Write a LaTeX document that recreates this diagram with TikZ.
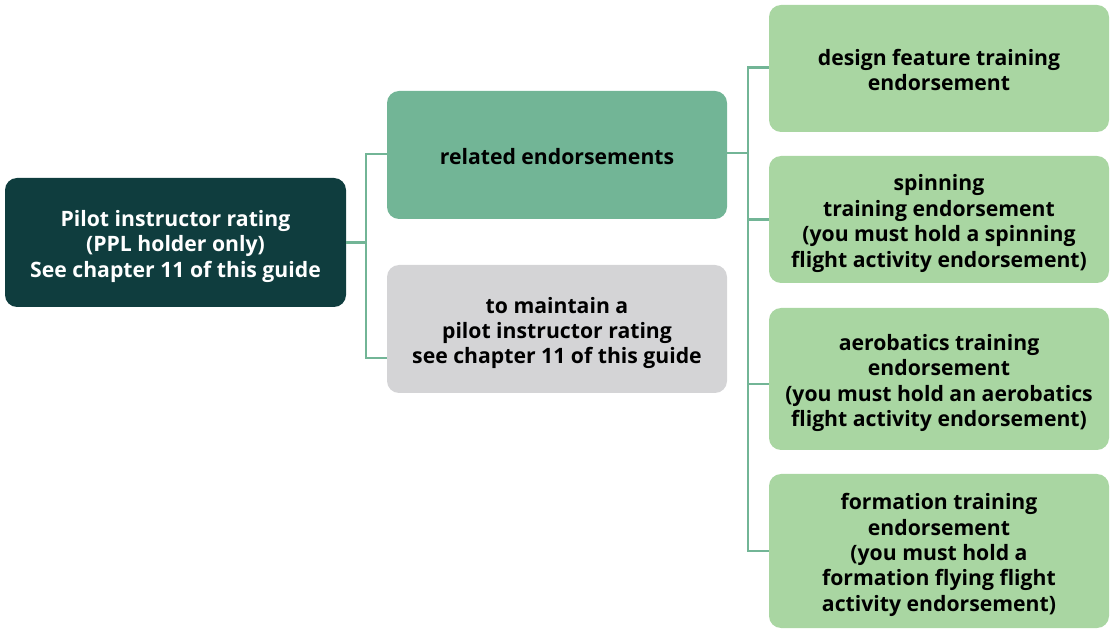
\documentclass[tikz,border=0pt]{standalone}
\usepackage{fontspec}
\setmainfont{Open Sans}[BoldFont={* Bold}]
\definecolor{rootc}{HTML}{0F3D3E}
\definecolor{relc}{HTML}{72B596}
\definecolor{grayc}{HTML}{D4D4D6}
\definecolor{leafc}{HTML}{A9D6A2}
\definecolor{linec}{HTML}{72B596}
\newcommand\topst{\rule{0pt}{24pt}}
\newcommand\botst{\rule[-5pt]{0pt}{5pt}}
\begin{document}
\begin{tikzpicture}[x=1pt,y=1pt,
  box/.style={rounded corners=12pt, inner sep=0pt, align=center,
    font=\fontsize{21.2}{25.4}\selectfont\bfseries, text=black},
  conn/.style={draw=linec, line width=2.6pt}]
\useasboundingbox (0,0) rectangle (1112,630);
% y = 630 - pixel
\node[box, fill=rootc, text=white, minimum width=341pt, minimum height=129pt] (root) at (175.5,387.5)
  {\topst Pilot instructor rating\\(PPL holder only)\\See chapter 11 of this guide\botst};
\node[box, fill=relc, minimum width=340pt, minimum height=128pt] (rel) at (557,475)
  {\topst related endorsements\botst};
\node[box, fill=grayc, minimum width=340pt, minimum height=128pt] (maint) at (557,301)
  {\topst to maintain a\\pilot instructor rating\\see chapter 11 of this guide\botst};
\node[box, fill=leafc, minimum width=340pt, minimum height=127pt] (design) at (939,561.5)
  {\topst design feature training\\endorsement\botst};
\node[box, fill=leafc, minimum width=340pt, minimum height=127pt] (spin) at (939,410.5)
  {\topst spinning\\training endorsement\\(you must hold a spinning\\flight activity endorsement)\botst};
\node[box, fill=leafc, minimum width=340pt, minimum height=142pt] (aero) at (939,251)
  {\topst aerobatics training\\endorsement\\(you must hold an aerobatics\\flight activity endorsement)\botst};
\node[box, fill=leafc, minimum width=340pt, minimum height=154pt] (form) at (939,79)
  {\topst formation training\\endorsement\\(you must hold a\\formation flying flight\\activity endorsement)\botst};
% connectors
\coordinate (bus1) at (366,0);
\coordinate (bus2) at (748,0);
\draw[conn] (root.east) -- (root.east -| bus1);
\draw[conn] ([yshift=1pt]rel.west) -| (bus1 |- maint.west) |- ([yshift=-29pt]maint.west);
\draw[conn] ([yshift=2pt]rel.east) -- ([yshift=2pt]rel.east -| bus2);
\draw[conn] ([yshift=1pt]design.west) -| (bus2 |- form.west) -- (form.west);
\draw[conn] (spin.west) -- (spin.west -| bus2);
\draw[conn] ([yshift=-5pt]aero.west) -- ([yshift=-5pt]aero.west -| bus2);
\end{tikzpicture}
\end{document}
